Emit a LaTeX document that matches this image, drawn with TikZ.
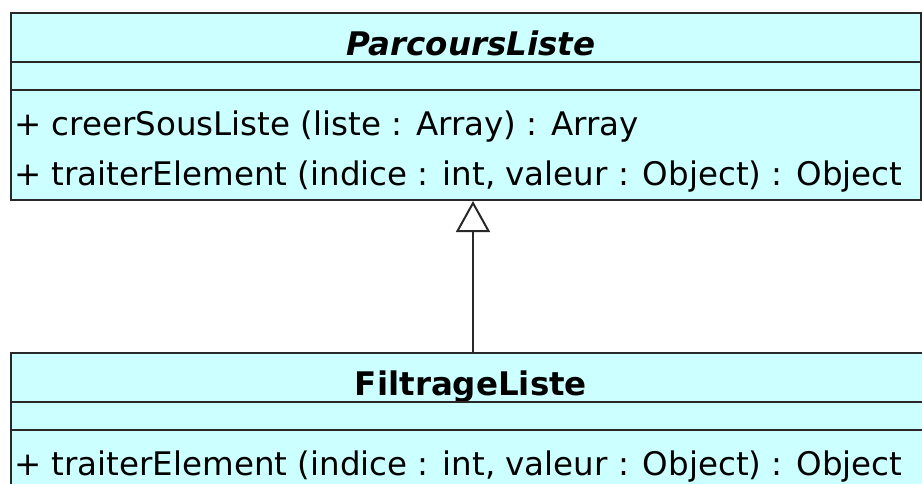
\documentclass[tikz,border=0pt]{standalone}
\usepackage{fontspec}
\newfontfamily\umlfont{DejaVu Sans}
\usetikzlibrary{arrows.meta}
\definecolor{umlcyan}{RGB}{204,255,255}
\definecolor{umlline}{RGB}{40,40,40}
\begin{document}
\begin{tikzpicture}[x=1pt,y=1pt,
  every node/.style={font=\umlfont\fontsize{32.5}{38}\selectfont, inner sep=0pt},
  classbox/.style={draw=umlline, line width=2pt, fill=umlcyan, anchor=north west},
  classname/.style={anchor=base, font=\umlfont\fontsize{32.5}{38}\selectfont\bfseries},
  member/.style={anchor=base west},
  inherit/.style={draw=umlline, line width=2pt,
    -{Triangle[open, length=31pt, width=34pt, line width=2pt]}}]
  \clip (0,0) rectangle (922,-483);
  % Class ParcoursListe
  \node[classbox, minimum width=910pt, minimum height=187pt] (parcours) at (10,-12) {};
  \node[classname, font=\umlfont\fontsize{32.5}{38}\selectfont\bfseries\itshape] (parcoursName) at (471,-55) {ParcoursListe};
  \draw[umlline, line width=2pt] (10,-62) -- (920,-62);
  \draw[umlline, line width=2pt] (10,-90) -- (920,-90);
  \node[member] (creer) at (14,-135) {+ creerSousListe (liste : Array) : Array};
  \node[member] (traiter) at (14,-185) {+ traiterElement (indice : int, valeur : Object) : Object};
  % Class FiltrageListe
  \node[classbox, minimum width=924pt, minimum height=160pt] (filtrage) at (10,-352) {};
  \node[classname] (filtrageName) at (471,-395) {FiltrageListe};
  \draw[umlline, line width=2pt] (10,-402) -- (934,-402);
  \draw[umlline, line width=2pt] (10,-430) -- (934,-430);
  \node[member] (traiterF) at (14,-475) {+ traiterElement (indice : int, valeur : Object) : Object};
  % Inheritance
  \draw[inherit] (filtrage.north) -- (filtrage.north |- parcours.south);
\end{tikzpicture}
\end{document}
